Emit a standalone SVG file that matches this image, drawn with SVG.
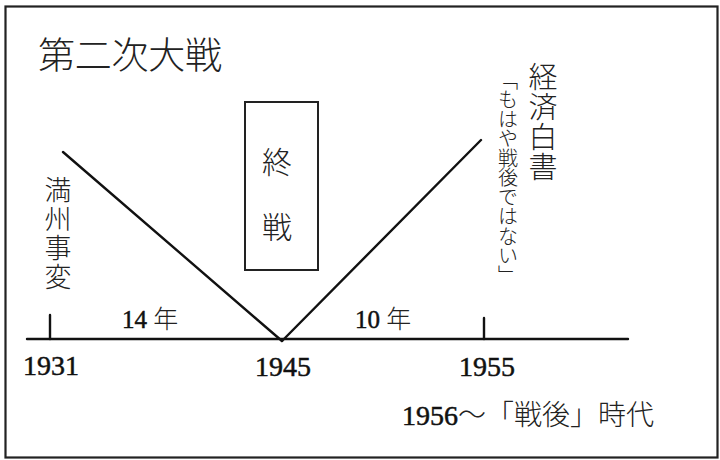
<svg xmlns="http://www.w3.org/2000/svg" width="720" height="460" viewBox="0 0 720 460">
<style>
.jp{font-family:"Noto Sans CJK JP",sans-serif;fill:#222;font-weight:300}
.num{font-family:"Liberation Serif","Noto Sans CJK JP",serif;fill:#111;stroke:#111;stroke-width:0.5}
.k{font-family:"Noto Sans CJK JP",sans-serif;stroke:none;fill:#222;font-weight:300}
.ln{stroke:#111;stroke-width:2.4;fill:none;stroke-linecap:round}
.vt{writing-mode:vertical-rl;text-anchor:start}
</style>
<rect x="0" y="0" width="720" height="460" fill="#fff"/>
<rect x="5.5" y="6.5" width="712" height="451" fill="none" stroke="#222" stroke-width="2.2"/>
<g id="title"><text class="jp" x="38" y="69" font-size="37" textLength="184">第二次大戦</text></g>
<g id="connectors">
<line class="ln" x1="27" y1="339" x2="628" y2="339"/>
<line class="ln" x1="50" y1="315" x2="50" y2="339" stroke-width="1.6"/>
<line class="ln" x1="484" y1="318" x2="484" y2="339" stroke-width="1.6"/>
<line class="ln" x1="63" y1="152" x2="282" y2="341"/>
<line class="ln" x1="282" y1="341" x2="481" y2="140"/>
</g>
<g id="shusen">
<rect x="245" y="102" width="73" height="168" fill="none" stroke="#222" stroke-width="2"/>
<text class="jp" x="277" y="173" font-size="30" text-anchor="middle">終</text>
<text class="jp" x="277" y="238" font-size="30" text-anchor="middle">戦</text>
</g>
<g id="manshu">
<text class="jp vt" x="58" y="176" font-size="27" letter-spacing="2">満州事変</text>
</g>
<g id="keizai">
<text class="jp vt" x="543" y="62" font-size="29" letter-spacing="1">経済白書</text>
<text class="jp vt" x="508" y="70" font-size="20" letter-spacing="-0.5">「もはや戦後ではない」</text>
</g>
<g id="labels">
<text class="num" x="122" y="328" font-size="25">14 <tspan class="k">年</tspan></text>
<text class="num" x="355" y="328" font-size="25">10 <tspan class="k">年</tspan></text>
<text class="num" x="23" y="375" font-size="28">1931</text>
<text class="num" x="283" y="376" font-size="28" text-anchor="middle">1945</text>
<text class="num" x="487" y="376" font-size="28" text-anchor="middle">1955</text>
<text class="num" x="402" y="425" font-size="28">1956<tspan class="k">〜「戦後」時代</tspan></text>
</g>
</svg>
